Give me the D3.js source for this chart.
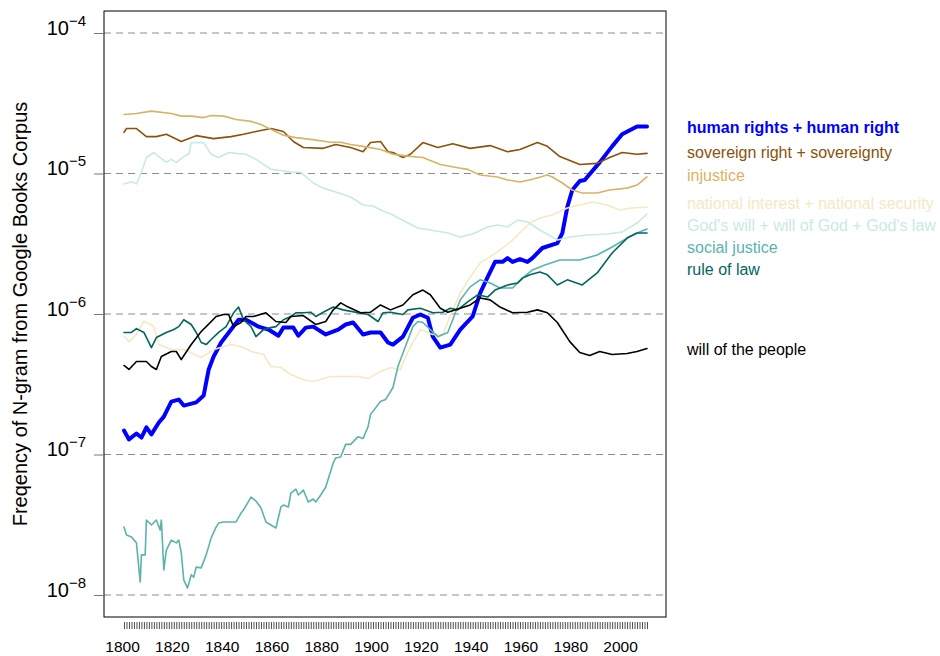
<!DOCTYPE html>
<html>
<head>
<meta charset="utf-8">
<script src="https://cdn.jsdelivr.net/npm/d3@7"></script>
<style>
  body { margin: 0; background: #fff; }
  text { font-family: "Liberation Sans", Arial, sans-serif; }
</style>
</head>
<body>
<svg id="chart"></svg>
<script>
// ticks
const yearTicks = [1800, 1820, 1840, 1860, 1880, 1900, 1920, 1940, 1960, 1980, 2000];
const powerTicks = [-8, -7, -6, -5, -4];

// series names (legend order = drawing order)
const seriesNames = [
    'human rights + human right',
    'sovereign right + sovereignty',
    'injustice',
    'national interest + national security',
    "God's will + will of God + God's law",
    'social justice',
    'rule of law',
    'will of the people'
];

// [year, frequency]
const humanRights = [[1800,1.48e-7],[1802,1.28e-7],[1805,1.41e-7],[1807,1.32e-7],[1809,1.56e-7],[1811,1.39e-7],[1814,1.69e-7],[1816,1.86e-7],[1819,2.38e-7],[1822,2.46e-7],[1824,2.23e-7],[1829,2.35e-7],[1832,2.63e-7],[1834,4.03e-7],[1836,4.98e-7],[1839,6.27e-7],[1843,7.75e-7],[1846,9.1e-7],[1849,9.1e-7],[1851,8.7e-7],[1854,8.13e-7],[1858,7.75e-7],[1862,7.0e-7],[1864,8.0e-7],[1868,8.0e-7],[1870,7.0e-7],[1873,8.0e-7],[1876,8.13e-7],[1881,7.15e-7],[1886,7.75e-7],[1889,8.42e-7],[1892,8.7e-7],[1896,7.15e-7],[1899,7.39e-7],[1903,7.39e-7],[1906,6.27e-7],[1908,6.06e-7],[1912,6.9e-7],[1916,9.4e-7],[1919,9.92e-7],[1922,9.4e-7],[1924,6.9e-7],[1927,5.77e-7],[1931,6.06e-7],[1935,7.75e-7],[1940,9.6e-7],[1943,1.41e-6],[1946,1.83e-6],[1949,2.35e-6],[1952,2.35e-6],[1954,2.5e-6],[1956,2.35e-6],[1959,2.46e-6],[1962,2.35e-6],[1964,2.5e-6],[1968,2.95e-6],[1974,3.2e-6],[1976,3.77e-6],[1978,5.77e-6],[1980,7.63e-6],[1983,8.84e-6],[1985,9.0e-6],[1991,1.2e-5],[1996,1.56e-5],[2000,1.9e-5],[2006,2.16e-5],[2010,2.16e-5]];

const sovereignty = [[1800,1.96e-5],[1801,2.09e-5],[1805,2.09e-5],[1809,1.83e-5],[1813,1.83e-5],[1817,1.9e-5],[1823,1.69e-5],[1829,1.86e-5],[1836,1.77e-5],[1843,1.83e-5],[1848,1.9e-5],[1853,1.99e-5],[1859,2.09e-5],[1864,1.99e-5],[1868,1.69e-5],[1872,1.53e-5],[1880,1.51e-5],[1885,1.61e-5],[1891,1.53e-5],[1896,1.43e-5],[1899,1.66e-5],[1903,1.69e-5],[1906,1.43e-5],[1908,1.41e-5],[1912,1.3e-5],[1915,1.37e-5],[1920,1.66e-5],[1926,1.53e-5],[1932,1.63e-5],[1939,1.51e-5],[1947,1.58e-5],[1954,1.43e-5],[1959,1.48e-5],[1966,1.66e-5],[1970,1.56e-5],[1975,1.32e-5],[1983,1.16e-5],[1990,1.18e-5],[1995,1.3e-5],[2000,1.41e-5],[2006,1.37e-5],[2010,1.39e-5]];

const injustice = [[1800,2.63e-5],[1805,2.67e-5],[1811,2.78e-5],[1819,2.67e-5],[1823,2.56e-5],[1827,2.56e-5],[1832,2.5e-5],[1835,2.59e-5],[1840,2.56e-5],[1845,2.42e-5],[1851,2.35e-5],[1855,2.23e-5],[1859,2.06e-5],[1864,1.87e-5],[1869,1.8e-5],[1875,1.75e-5],[1883,1.67e-5],[1887,1.67e-5],[1891,1.61e-5],[1896,1.56e-5],[1903,1.48e-5],[1908,1.37e-5],[1914,1.33e-5],[1920,1.3e-5],[1927,1.16e-5],[1934,1.1e-5],[1938,1.07e-5],[1943,9.77e-6],[1950,9.45e-6],[1954,9.0e-6],[1959,8.7e-6],[1964,9.1e-6],[1970,9.77e-6],[1972,9.45e-6],[1976,8.56e-6],[1980,7.63e-6],[1984,7.26e-6],[1990,7.26e-6],[1995,7.63e-6],[2002,7.87e-6],[2006,8.27e-6],[2010,9.45e-6]];

const nationalInterest = [[1800,6.95e-7],[1802,6.36e-7],[1805,7.15e-7],[1808,8.9e-7],[1812,8.19e-7],[1814,6.06e-7],[1819,5.58e-7],[1824,5.58e-7],[1831,4.9e-7],[1836,5.58e-7],[1843,6.06e-7],[1848,5.77e-7],[1851,5.41e-7],[1856,5.15e-7],[1859,4.23e-7],[1863,4.16e-7],[1867,3.71e-7],[1872,3.42e-7],[1876,3.31e-7],[1883,3.59e-7],[1888,3.59e-7],[1894,3.59e-7],[1898,3.47e-7],[1902,3.83e-7],[1907,4.16e-7],[1911,4.03e-7],[1913,4.98e-7],[1916,6.27e-7],[1919,7.75e-7],[1924,7.15e-7],[1928,7.15e-7],[1932,1.07e-6],[1935,1.41e-6],[1939,1.83e-6],[1943,2.31e-6],[1947,2.55e-6],[1951,2.85e-6],[1956,3.36e-6],[1963,4.44e-6],[1967,4.82e-6],[1972,5.06e-6],[1978,5.68e-6],[1983,5.97e-6],[1988,6.27e-6],[1994,5.97e-6],[1999,5.5e-6],[2004,5.68e-6],[2010,5.77e-6]];

const godsWill = [[1800,8.42e-6],[1803,8.75e-6],[1805,8.42e-6],[1807,1.02e-5],[1809,1.3e-5],[1812,1.41e-5],[1814,1.32e-5],[1817,1.2e-5],[1819,1.26e-5],[1821,1.2e-5],[1824,1.32e-5],[1826,1.37e-5],[1827,1.66e-5],[1829,1.66e-5],[1832,1.66e-5],[1835,1.37e-5],[1838,1.3e-5],[1842,1.41e-5],[1845,1.39e-5],[1849,1.37e-5],[1853,1.26e-5],[1859,1.07e-5],[1863,1.05e-5],[1867,1.02e-5],[1871,1.02e-5],[1876,8.56e-6],[1880,7.87e-6],[1885,7.39e-6],[1891,6.8e-6],[1896,5.97e-6],[1900,5.87e-6],[1904,5.41e-6],[1908,5.06e-6],[1914,4.44e-6],[1918,4.09e-6],[1923,3.96e-6],[1930,3.77e-6],[1935,3.53e-6],[1940,3.71e-6],[1946,4.16e-6],[1950,4.3e-6],[1954,4.16e-6],[1958,4.66e-6],[1962,4.52e-6],[1967,3.96e-6],[1974,3.36e-6],[1979,3.53e-6],[1986,3.65e-6],[1994,3.71e-6],[2000,3.83e-6],[2006,4.44e-6],[2010,5.15e-6]];

const socialJustice = [[1800,3.05e-8],[1801,2.67e-8],[1803,2.59e-8],[1805,2.35e-8],[1806.5,1.24e-8],[1807,1.93e-8],[1808.5,1.93e-8],[1809,3.42e-8],[1811,3.15e-8],[1813,3.42e-8],[1814.5,2.9e-8],[1815,3.42e-8],[1816,1.51e-8],[1817,2.09e-8],[1819,2.46e-8],[1821,2.35e-8],[1822,2.46e-8],[1823,1.99e-8],[1824,1.28e-8],[1825.5,1.12e-8],[1827,1.39e-8],[1828,1.34e-8],[1829,1.58e-8],[1831,1.56e-8],[1833,1.93e-8],[1835,2.55e-8],[1837,3.05e-8],[1838,3.25e-8],[1840,3.31e-8],[1843,3.31e-8],[1845,3.31e-8],[1847,3.83e-8],[1848,4.03e-8],[1851,4.98e-8],[1853,4.66e-8],[1855,4.16e-8],[1857,3.31e-8],[1859,3.15e-8],[1861,3.0e-8],[1863,4.23e-8],[1864,4.37e-8],[1866,4.23e-8],[1867,5.32e-8],[1869,5.68e-8],[1870,5.15e-8],[1872,5.58e-8],[1874,4.59e-8],[1876,4.82e-8],[1877,4.59e-8],[1879,5.15e-8],[1881,5.87e-8],[1884,8.7e-8],[1885,9.45e-8],[1887,9.6e-8],[1889,1.18e-7],[1891,1.18e-7],[1894,1.34e-7],[1896,1.3e-7],[1898,1.58e-7],[1899,1.93e-7],[1903,2.38e-7],[1905,2.46e-7],[1908,3.0e-7],[1910,4.23e-7],[1913,5.87e-7],[1916,8.13e-7],[1918,8.84e-7],[1920,8.7e-7],[1923,7.75e-7],[1926,6.9e-7],[1930,7.39e-7],[1932,9.1e-7],[1935,1.26e-6],[1939,1.56e-6],[1943,1.75e-6],[1947,1.66e-6],[1951,1.53e-6],[1956,1.53e-6],[1960,1.8e-6],[1964,2.06e-6],[1969,2.23e-6],[1975,2.42e-6],[1983,2.42e-6],[1990,2.63e-6],[1996,3.0e-6],[2002,3.47e-6],[2006,3.77e-6],[2010,4.03e-6]];

const ruleOfLaw = [[1800,7.39e-7],[1803,7.39e-7],[1805,7.87e-7],[1808,7.39e-7],[1811,5.77e-7],[1813,6.8e-7],[1817,7.39e-7],[1820,7.75e-7],[1822,8.13e-7],[1824,9.1e-7],[1827,8.42e-7],[1829,7.39e-7],[1831,6.27e-7],[1833,6.06e-7],[1835,6.58e-7],[1838,7.39e-7],[1841,8.13e-7],[1844,1.02e-6],[1846,1.12e-6],[1848,9.1e-7],[1851,8.13e-7],[1853,6.9e-7],[1856,7.75e-7],[1859,8.0e-7],[1861,8.13e-7],[1864,9.1e-7],[1867,9.6e-7],[1869,1.02e-6],[1872,1.02e-6],[1875,1.03e-6],[1877,9.6e-7],[1880,1.03e-6],[1884,1.12e-6],[1888,1.07e-6],[1894,1.02e-6],[1898,9.92e-7],[1902,8.84e-7],[1904,1.02e-6],[1907,1.03e-6],[1912,9.92e-7],[1914,1.07e-6],[1919,1.1e-6],[1924,1.02e-6],[1928,1.03e-6],[1931,1.1e-6],[1934,1.07e-6],[1938,1.22e-6],[1942,1.37e-6],[1946,1.32e-6],[1949,1.48e-6],[1954,1.61e-6],[1958,1.66e-6],[1960,1.8e-6],[1963,1.9e-6],[1967,1.99e-6],[1970,1.9e-6],[1974,1.61e-6],[1978,1.75e-6],[1984,1.61e-6],[1990,1.96e-6],[1996,2.72e-6],[2002,3.47e-6],[2006,3.77e-6],[2010,3.77e-6]];

const willOfPeople = [[1800,4.3e-7],[1802,4.03e-7],[1805,4.59e-7],[1809,4.59e-7],[1811,4.23e-7],[1813,4.03e-7],[1815,4.98e-7],[1819,5.41e-7],[1821,5.41e-7],[1823,4.74e-7],[1827,6.06e-7],[1831,7.51e-7],[1833,8.13e-7],[1837,9.6e-7],[1840,9.92e-7],[1842,9.92e-7],[1844,8.13e-7],[1847,8.7e-7],[1849,9.6e-7],[1852,9.6e-7],[1857,1.02e-6],[1861,8.84e-7],[1865,8.7e-7],[1867,9.6e-7],[1872,9.75e-7],[1877,8.42e-7],[1881,8.84e-7],[1884,1.07e-6],[1887,1.2e-6],[1890,1.12e-6],[1895,1.02e-6],[1899,1.03e-6],[1903,1.16e-6],[1907,1.07e-6],[1912,1.16e-6],[1916,1.37e-6],[1920,1.48e-6],[1923,1.37e-6],[1927,1.1e-6],[1930,1.03e-6],[1935,1.1e-6],[1939,1.16e-6],[1943,1.3e-6],[1947,1.26e-6],[1951,1.12e-6],[1956,1.02e-6],[1962,1.03e-6],[1966,1.07e-6],[1970,1.02e-6],[1974,8.7e-7],[1979,6.36e-7],[1983,5.32e-7],[1987,5.06e-7],[1991,5.41e-7],[1996,5.15e-7],[2002,5.24e-7],[2006,5.41e-7],[2010,5.68e-7]];

const seriesValues = [humanRights, sovereignty, injustice, nationalInterest, godsWill, socialJustice, ruleOfLaw, willOfPeople];

// styles
const colors = ['#0000ff', '#8c510a', '#d8b365', '#f6e8c3', '#c7eae5', '#5ab4ac', '#01665e', '#000000'];
const widths = [4, 1.6, 1.6, 1.6, 1.6, 1.6, 1.6, 1.6];

const W = 940, H = 656;
const box = {left: 104, top: 11, right: 666, bottom: 617};

const svg = d3.select('#chart').attr('width', W).attr('height', H);

const x = d3.scaleLinear().domain([1800, 2010]).range([124, 647]);
const y = d3.scaleLog().domain([1e-8, 1e-4]).range([595, 33]);

// dashed reference lines
svg.append('g').selectAll('line')
    .data(powerTicks)
    .join('line')
    .attr('x1', box.left).attr('x2', box.right)
    .attr('y1', d => y(Math.pow(10, d))).attr('y2', d => y(Math.pow(10, d)))
    .attr('stroke', '#8c8c8c')
    .attr('stroke-width', 1)
    .attr('stroke-dasharray', '7,5');

// lines
const line = d3.line()
    .x(d => x(d[0]))
    .y(d => y(d[1]));

svg.append('g').selectAll('path')
    .data(seriesValues)
    .join('path')
    .attr('d', line)
    .attr('fill', 'none')
    .attr('stroke', (d, i) => colors[i])
    .attr('stroke-width', (d, i) => widths[i])
    .attr('stroke-linejoin', 'round')
    .attr('stroke-linecap', 'round');

// frame
svg.append('rect')
    .attr('x', box.left).attr('y', box.top)
    .attr('width', box.right - box.left).attr('height', box.bottom - box.top)
    .attr('fill', 'none').attr('stroke', '#000').attr('stroke-width', 1);

// y axis
const yAxis = svg.append('g')
    .attr('transform', `translate(${box.left},0)`)
    .call(d3.axisLeft(y).tickValues(powerTicks.map(p => Math.pow(10, p))).tickSize(10).tickPadding(8));
yAxis.select('.domain').remove();
yAxis.selectAll('.tick line').attr('stroke', '#777');
yAxis.selectAll('.tick text').each(function(d) {
    const t = d3.select(this).text('').attr('dy', 1).attr('fill', '#000');
    t.append('tspan').style('font-size', '20px').text('10');
    t.append('tspan').style('font-size', '15px').attr('dy', -9)
        .text('\u2212' + Math.abs(Math.round(Math.log10(d))));
});

// x axis: one tick per year
const xMinor = svg.append('g')
    .attr('transform', 'translate(0,622)')
    .call(d3.axisBottom(x).tickValues(d3.range(1800, 2011)).tickSize(7).tickFormat(''));
xMinor.select('.domain').remove();
xMinor.selectAll('.tick line').attr('stroke', '#222').attr('stroke-width', 0.8);

const xLabels = svg.append('g')
    .attr('transform', 'translate(-2,622)')
    .call(d3.axisBottom(x).tickValues(yearTicks).tickSize(0).tickPadding(19).tickFormat(d3.format('d')));
xLabels.select('.domain').remove();
xLabels.selectAll('text').style('font-size', '15.5px').attr('fill', '#000')
    .style('font-family', '"Liberation Sans", Arial, sans-serif');

// y title
svg.append('text')
    .attr('transform', `translate(27,${(box.top + box.bottom) / 2}) rotate(-90)`)
    .attr('text-anchor', 'middle')
    .style('font-size', '20px')
    .text('Freqency of N-gram from Google Books Corpus');

// labels at line ends, spread so they do not overlap
function placeLabels(ends, gap, push) {
    const order = d3.range(ends.length).sort((a, b) => ends[a] - ends[b]);
    const sorted = order.map(i => ends[i]);
    const down = [];
    sorted.forEach((v, k) => down.push(k ? Math.max(v, down[k - 1] + gap) : v));
    const groups = [];
    sorted.forEach(v => {
        let g = {sum: v, n: 1, top: v};
        while (groups.length) {
            const prev = groups[groups.length - 1];
            if (prev.top + prev.n * gap <= g.top) break;
            groups.pop();
            const n = prev.n + g.n, sum = prev.sum + g.sum;
            g = {sum: sum, n: n, top: sum / n - (n - 1) * gap / 2};
        }
        groups.push(g);
    });
    const spread = [];
    groups.forEach(g => { for (let j = 0; j < g.n; j++) spread.push(g.top + j * gap); });
    const out = [];
    order.forEach((i, k) => { out[i] = push * down[k] + (1 - push) * spread[k]; });
    return out;
}

const ends = seriesValues.map(s => y(s[s.length - 1][1]));
const labelY = placeLabels(ends, 22, 0.7);

svg.append('g').selectAll('text')
    .data(seriesNames)
    .join('text')
    .attr('x', 687)
    .attr('y', (d, i) => labelY[i])
    .attr('dy', '0.4em')
    .attr('fill', (d, i) => colors[i])
    .style('font-size', '16px')
    .style('font-weight', (d, i) => i === 0 ? 'bold' : 'normal')
    .text(d => d);
</script>
</body>
</html>
